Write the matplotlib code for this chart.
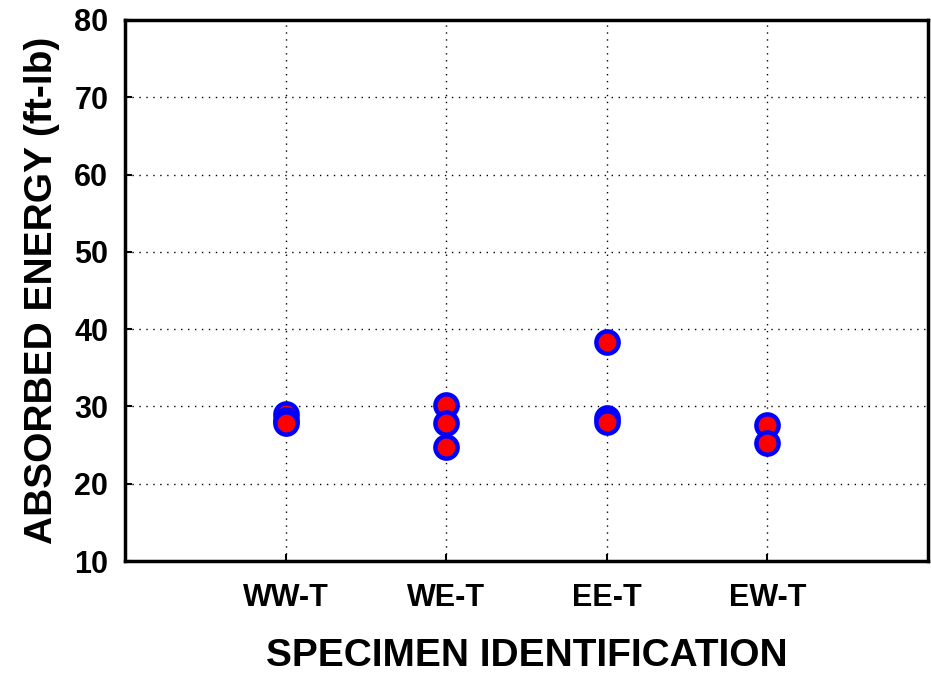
import numpy as np
import matplotlib
matplotlib.use("Agg")
import matplotlib.pyplot as plt

plt.rcParams["font.family"] = ["Liberation Sans", "DejaVu Sans"]
plt.rcParams["font.weight"] = "bold"

# specimen groups and absorbed energy readings (ft-lb)
categories = ["WW-T", "WE-T", "EE-T", "EW-T"]
energy = [
    [29.0, 28.3, 27.8],
    [30.2, 27.8, 24.8],
    [38.4, 28.5, 28.0],
    [27.6, 25.3],
]
y_ticks = [10, 20, 30, 40, 50, 60, 70, 80]

fig = plt.figure(figsize=(9.31, 6.77), dpi=100)
ax = fig.add_axes([0.1343, 0.1713, 0.8625, 0.7992])

for i, vals in enumerate(energy):
    xs = np.full(len(vals), i + 1)
    ax.plot(xs, vals, linestyle="none", marker="o", markersize=16,
            markerfacecolor="red", markeredgecolor="blue",
            markeredgewidth=3.2, zorder=3, clip_on=False)

ax.set_xlim(0, 5)
ax.set_ylim(10, 80)
ax.set_xticks(range(1, len(categories) + 1))
ax.set_xticklabels(categories)
ax.set_yticks(y_ticks)

ax.grid(True, linestyle=(0, (1, 4)), color="black", linewidth=1.0)
ax.tick_params(direction="in", length=5, width=1.5, labelsize=22, pad=12)
ax.tick_params(axis="x", pad=16)
for lab in ax.get_xticklabels() + ax.get_yticklabels():
    lab.set_fontweight("bold")

for sp in ax.spines.values():
    sp.set_linewidth(2.5)

ax.set_xlabel("SPECIMEN IDENTIFICATION", fontsize=28, fontweight="bold", labelpad=18)
ax.set_ylabel("ABSORBED ENERGY (ft-lb)", fontsize=28, fontweight="bold", labelpad=10)

fig.savefig("out.png", dpi=100)
